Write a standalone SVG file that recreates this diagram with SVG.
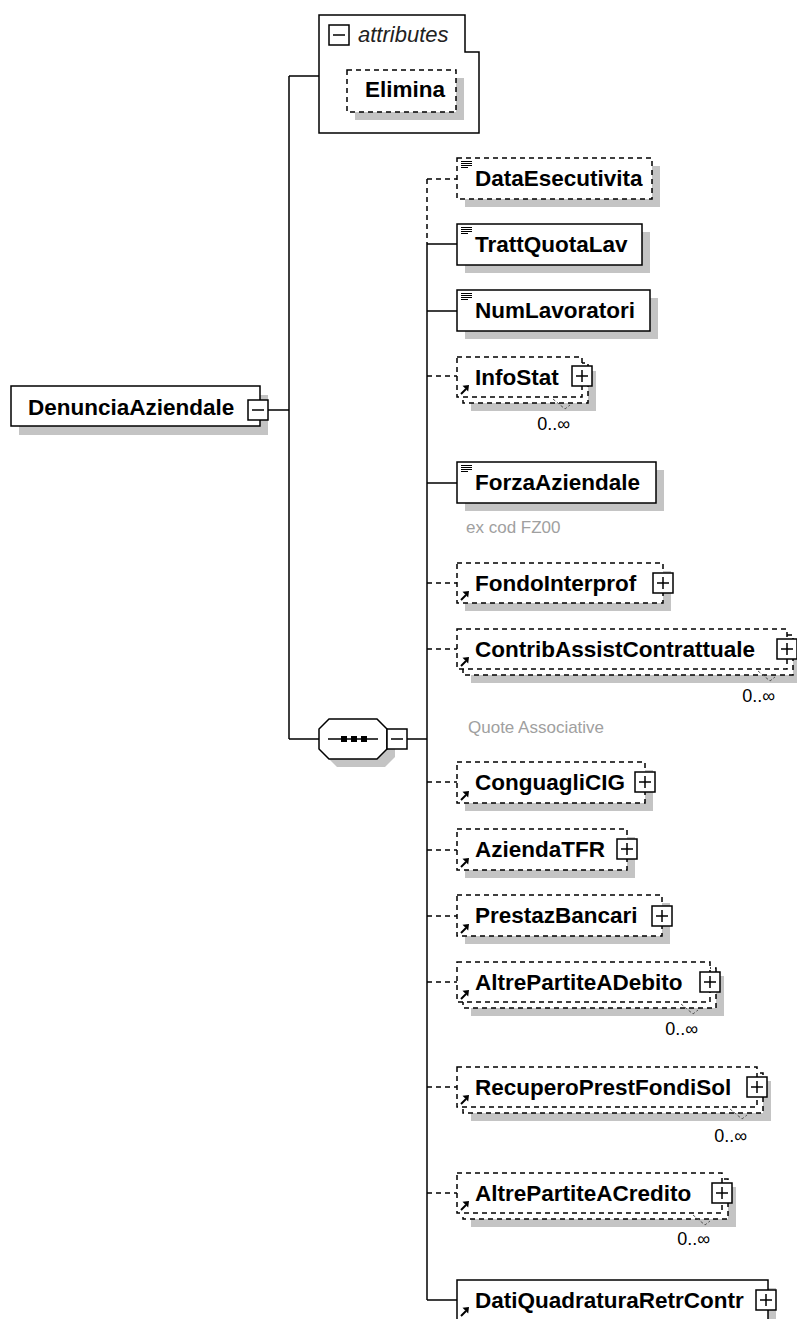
<svg xmlns="http://www.w3.org/2000/svg" width="797" height="1319" viewBox="0 0 797 1319">
<style>
.box{fill:#fff;stroke:#000;stroke-width:1.5}
.dash{stroke-dasharray:5,4}
.shadow{fill:#c4c4c4}
.name{font-family:"Liberation Sans",Arial,sans-serif;font-weight:bold;font-size:22.5px;fill:#000}
.note{font-family:"Liberation Sans",Arial,sans-serif;font-size:17px;fill:#a0a0a0}
.card{font-family:"Liberation Sans",Arial,sans-serif;font-size:18px;fill:#000;text-anchor:end}
.conn{stroke:#000;stroke-width:1.5;fill:none}
.tick{stroke:#555;stroke-width:1;fill:none;stroke-dasharray:3,2}
</style>
<defs>
<g id="plus"><rect x="0" y="0" width="20" height="20" fill="#fff" stroke="#000" stroke-width="1.5"/><path d="M4 10H16M10 4V16" stroke="#000" stroke-width="1.5"/></g>
<g id="minus"><rect x="0" y="0" width="20" height="20" fill="#fff" stroke="#000" stroke-width="1.5"/><path d="M4 10H16" stroke="#000" stroke-width="1.5"/></g>
<g id="ref"><path d="M1 10L6 5" stroke="#000" stroke-width="2"/><path d="M9 1L2.5 1.8L8.2 7.5Z" fill="#000"/></g>
<g id="doc"><path d="M0 0.5H11M0 2.5H11M0 4.5H11M0 6.5H7" stroke="#000" stroke-width="1"/></g>
</defs>

<g id="connectors">
<path class="conn" d="M268 410H289M289 76V739M289 76H319M289 739H319M407 739H427"/>
<path class="conn dash" d="M427 179V244"/>
<path class="conn" d="M427 244V1300"/>
<path class="conn dash" d="M427 179H457M427 376H457M427 583H457M427 649H457M427 782H457M427 850H457M427 916H457M427 982H457M427 1087H457M427 1193H457"/>
<path class="conn" d="M427 244H457M427 311H457M427 483H457M427 1300H457"/>
</g>

<g id="DenunciaAziendale">
<rect class="shadow" x="19" y="395" width="249" height="40"/>
<rect class="box" x="11" y="386" width="249" height="40"/>
<text class="name" x="28" y="415">DenunciaAziendale</text>
<use href="#minus" x="248" y="400"/>
</g>

<g id="attributes">
<path class="box" d="M319 15H465V52H479V133H319Z"/>
<use href="#minus" x="329" y="25"/>
<text x="358" y="42" style="font-family:'Liberation Sans',Arial,sans-serif;font-style:italic;font-size:22px;fill:#222">attributes</text>
</g>
<g id="Elimina">
<rect class="shadow" x="355" y="78" width="109" height="42"/>
<rect class="box dash" x="347" y="70" width="109" height="42"/>
<text class="name" x="365" y="97">Elimina</text>
</g>

<g id="sequence">
<polygon class="shadow" points="337,727 385,727 395,737 395,757 385,767 337,767 327,757 327,737"/>
<polygon class="box" points="329,719 377,719 387,729 387,749 377,759 329,759 319,749 319,729"/>
<path d="M328 739H378" stroke="#000" stroke-width="1.5"/>
<rect x="341" y="736" width="6" height="6" fill="#000"/>
<rect x="351" y="736" width="6" height="6" fill="#000"/>
<rect x="361" y="736" width="6" height="6" fill="#000"/>
<use href="#minus" x="387" y="729"/>
</g>

<g id="DataEsecutivita">
<rect class="shadow" x="465" y="166" width="195" height="41"/>
<rect class="box dash" x="457" y="158" width="195" height="41"/>
<use href="#doc" x="461" y="161"/>
<text class="name" x="475" y="186">DataEsecutivita</text>
</g>

<g id="TrattQuotaLav">
<rect class="shadow" x="465" y="232" width="185" height="41"/>
<rect class="box" x="457" y="224" width="185" height="41"/>
<use href="#doc" x="461" y="227"/>
<text class="name" x="475" y="252">TrattQuotaLav</text>
</g>

<g id="NumLavoratori">
<rect class="shadow" x="465" y="298" width="193" height="41"/>
<rect class="box" x="457" y="290" width="193" height="41"/>
<use href="#doc" x="461" y="293"/>
<text class="name" x="475" y="318">NumLavoratori</text>
</g>

<g id="InfoStat">
<rect class="shadow" x="471" y="371" width="125" height="40"/>
<rect class="box dash" x="463" y="363" width="125" height="40"/>
<rect class="box dash" x="457" y="357" width="125" height="40"/>
<use href="#ref" x="460" y="384"/>
<text class="name" x="475" y="385">InfoStat</text>
<use href="#plus" x="572" y="366"/>
<polyline class="tick" points="553,399 565,409 570,405"/>
<text class="card" x="570" y="430">0..∞</text>
</g>

<g id="ForzaAziendale">
<rect class="shadow" x="465" y="470" width="199" height="41"/>
<rect class="box" x="457" y="462" width="199" height="41"/>
<use href="#doc" x="461" y="465"/>
<text class="name" x="475" y="490">ForzaAziendale</text>
<text class="note" x="466" y="533">ex cod FZ00</text>
</g>

<g id="FondoInterprof">
<rect class="shadow" x="465" y="571" width="206" height="40"/>
<rect class="box dash" x="457" y="563" width="206" height="40"/>
<use href="#ref" x="460" y="590"/>
<text class="name" x="475" y="591">FondoInterprof</text>
<use href="#plus" x="653" y="573"/>
</g>

<g id="ContribAssistContrattuale">
<rect class="shadow" x="471" y="643" width="330" height="40"/>
<rect class="box dash" x="463" y="635" width="330" height="40"/>
<rect class="box dash" x="457" y="629" width="330" height="40"/>
<use href="#ref" x="460" y="656"/>
<text class="name" x="475" y="657">ContribAssistContrattuale</text>
<use href="#plus" x="777" y="639"/>
<polyline class="tick" points="758,671 770,681 775,677"/>
<text class="card" x="775" y="702">0..∞</text>
<text class="note" x="468" y="733">Quote Associative</text>
</g>

<g id="ConguagliCIG">
<rect class="shadow" x="465" y="770" width="188" height="41"/>
<rect class="box dash" x="457" y="762" width="188" height="41"/>
<use href="#ref" x="460" y="790"/>
<text class="name" x="475" y="790">ConguagliCIG</text>
<use href="#plus" x="635" y="772"/>
</g>

<g id="AziendaTFR">
<rect class="shadow" x="465" y="837" width="170" height="41"/>
<rect class="box dash" x="457" y="829" width="170" height="41"/>
<use href="#ref" x="460" y="857"/>
<text class="name" x="475" y="857">AziendaTFR</text>
<use href="#plus" x="617" y="839"/>
</g>

<g id="PrestazBancari">
<rect class="shadow" x="465" y="903" width="205" height="41"/>
<rect class="box dash" x="457" y="895" width="205" height="41"/>
<use href="#ref" x="460" y="923"/>
<text class="name" x="475" y="923">PrestazBancari</text>
<use href="#plus" x="652" y="906"/>
</g>

<g id="AltrePartiteADebito">
<rect class="shadow" x="471" y="976" width="253" height="40"/>
<rect class="box dash" x="463" y="968" width="253" height="40"/>
<rect class="box dash" x="457" y="962" width="253" height="40"/>
<use href="#ref" x="460" y="989"/>
<text class="name" x="475" y="990">AltrePartiteADebito</text>
<use href="#plus" x="700" y="972"/>
<polyline class="tick" points="681,1004 693,1014 698,1010"/>
<text class="card" x="698" y="1035">0..∞</text>
</g>

<g id="RecuperoPrestFondiSol">
<rect class="shadow" x="471" y="1081" width="300" height="40"/>
<rect class="box dash" x="463" y="1073" width="300" height="40"/>
<rect class="box dash" x="457" y="1067" width="300" height="40"/>
<use href="#ref" x="460" y="1094"/>
<text class="name" x="475" y="1095">RecuperoPrestFondiSol</text>
<use href="#plus" x="747" y="1077"/>
<polyline class="tick" points="730,1109 742,1119 747,1115"/>
<text class="card" x="747" y="1142">0..∞</text>
</g>

<g id="AltrePartiteACredito">
<rect class="shadow" x="471" y="1187" width="265" height="40"/>
<rect class="box dash" x="463" y="1179" width="265" height="40"/>
<rect class="box dash" x="457" y="1173" width="265" height="40"/>
<use href="#ref" x="460" y="1200"/>
<text class="name" x="475" y="1201">AltrePartiteACredito</text>
<use href="#plus" x="712" y="1183"/>
<polyline class="tick" points="693,1215 705,1225 710,1221"/>
<text class="card" x="710" y="1245">0..∞</text>
</g>

<g id="DatiQuadraturaRetrContr">
<rect class="shadow" x="465" y="1288" width="311" height="40"/>
<rect class="box" x="457" y="1280" width="311" height="40"/>
<use href="#ref" x="460" y="1306"/>
<text class="name" x="475" y="1308">DatiQuadraturaRetrContr</text>
<use href="#plus" x="756" y="1290"/>
</g>
</svg>
